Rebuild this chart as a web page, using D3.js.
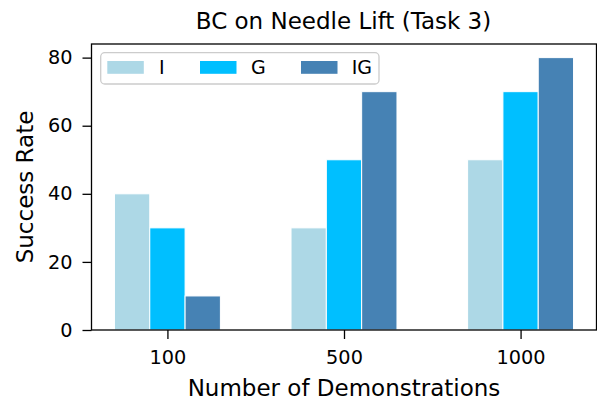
<!DOCTYPE html>
<html>
<head>
<meta charset="utf-8">
<script src="https://cdn.jsdelivr.net/npm/d3@7"></script>
<style>
  html, body { margin: 0; padding: 0; background: #fff; }
  svg { display: block; font-family: "DejaVu Sans", sans-serif; }
</style>
</head>
<body>
<svg id="chart" width="597" height="401"></svg>
<script>
const categories = ["100", "500", "1000"];
const seriesNames = ["I", "G", "IG"];
const valuesI = [40, 30, 50];
const valuesG = [30, 50, 70];
const valuesIG = [10, 70, 80];
const yTicks = [0, 20, 40, 60, 80];
const colors = ["#ADD8E6", "#00BFFF", "#4682B4"];

const series = [valuesI, valuesG, valuesIG];

const svg = d3.select("#chart");
const pLeft = 91.5, pRight = 596.5, pTop = 44, pBottom = 330;

const x = d3.scaleLinear().domain([-0.43, 2.43]).range([pLeft, pRight]);
const y = d3.scaleLinear().domain([0, 84]).range([pBottom, pTop]);
const barW = 0.2;
const offsets = [-0.2, 0, 0.2];

series.forEach((vals, si) => {
  svg.append("g").selectAll("rect").data(vals).join("rect")
    .attr("x", (d, i) => x(i + offsets[si] - barW / 2))
    .attr("width", (d, i) => x(i + offsets[si] + barW / 2) - x(i + offsets[si] - barW / 2))
    .attr("y", d => y(d))
    .attr("height", d => y(0) - y(d))
    .attr("fill", colors[si])
    .attr("stroke", "#fff")
    .attr("stroke-width", 1);
});

svg.append("rect")
  .attr("x", pLeft).attr("y", pTop)
  .attr("width", pRight - pLeft).attr("height", pBottom - pTop)
  .attr("fill", "none").attr("stroke", "#000").attr("stroke-width", 1.3);

const xAxis = d3.axisBottom(x)
  .tickValues(categories.map((c, i) => i))
  .tickFormat(i => categories[i])
  .tickSize(9).tickPadding(11);
const gx = svg.append("g").attr("transform", `translate(0,${pBottom})`).call(xAxis);
gx.select(".domain").remove();
gx.selectAll("line").attr("stroke", "#000").attr("stroke-width", 1.3);
gx.selectAll("text").attr("font-size", 19.3).attr("fill", "#000")
  .attr("font-family", "DejaVu Sans");

const yAxis = d3.axisLeft(y).tickValues(yTicks).tickSize(9).tickPadding(10);
const gy = svg.append("g").attr("transform", `translate(${pLeft},0)`).call(yAxis);
gy.select(".domain").remove();
gy.selectAll("line").attr("stroke", "#000").attr("stroke-width", 1.3);
gy.selectAll("text").attr("font-size", 19.3).attr("fill", "#000")
  .attr("font-family", "DejaVu Sans");

svg.append("text")
  .attr("x", (pLeft + pRight) / 2 - 0.5).attr("y", 28.5)
  .attr("text-anchor", "middle").attr("font-size", 23).attr("fill", "#000")
  .text("BC on Needle Lift (Task 3)");

svg.append("text")
  .attr("x", (pLeft + pRight) / 2).attr("y", 396)
  .attr("text-anchor", "middle").attr("font-size", 23).attr("fill", "#000")
  .text("Number of Demonstrations");

svg.append("text")
  .attr("transform", `translate(33,${(pTop + pBottom) / 2}) rotate(-90)`)
  .attr("text-anchor", "middle").attr("font-size", 23).attr("fill", "#000")
  .text("Success Rate");

const lg = svg.append("g");
lg.append("rect")
  .attr("x", 100.7).attr("y", 52.7).attr("width", 278.3).attr("height", 31.3)
  .attr("rx", 4).attr("ry", 4)
  .attr("fill", "#fff").attr("fill-opacity", 0.8)
  .attr("stroke", "#cccccc").attr("stroke-width", 1.3);
const patchX = [107.3, 200, 301];
const textX = [159, 251, 351.7];
seriesNames.forEach((name, i) => {
  lg.append("rect")
    .attr("x", patchX[i]).attr("y", 61).attr("width", 36.5).attr("height", 12.8)
    .attr("fill", colors[i]);
  lg.append("text")
    .attr("x", textX[i]).attr("y", 67.4).attr("dy", "0.36em")
    .attr("font-size", 19).attr("fill", "#000")
    .text(name);
});
</script>
</body>
</html>
